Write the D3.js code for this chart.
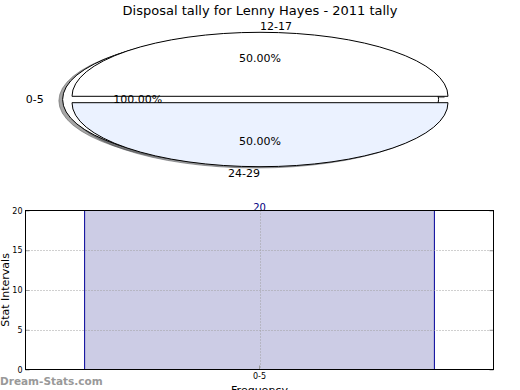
<!DOCTYPE html>
<html>
<head>
<meta charset="utf-8">
<script src="https://cdn.jsdelivr.net/npm/d3@7"></script>
<style>
  html, body { margin: 0; padding: 0; background: #fff; }
  svg { display: block; font-family: "DejaVu Sans", sans-serif; }
</style>
</head>
<body>
<div id="chart"></div>
<script>
// ── Data ──
const title       = 'Disposal tally for Lenny Hayes - 2011 tally';
const sliceLabels = ['0-5', '12-17', '24-29'];
const slicePct    = [100, 50, 50];
const sliceFill   = ['#ffffff', '#ffffff', '#ebf2ff'];
const barCats     = ['0-5'];
const barValues   = [20];
const yTicks      = [0, 5, 10, 15, 20];

const W = 520, H = 390;
const svg = d3.select('#chart').append('svg').attr('width', W).attr('height', H);

svg.append('text')
  .attr('x', 260).attr('y', 10).attr('dy', '0.35em')
  .attr('text-anchor', 'middle').attr('font-size', 13)
  .text(title);

// ── Pie (matplotlib-style, unequal axes -> ellipse) ──
const cx = 260, cy = 99.5, rx = 188, ry = 64;
const EXPLODE = 0.05, SHADOW = -0.02;
const px = d3.scaleLinear().domain([-1, 1]).range([cx - rx, cx + rx]);
const py = d3.scaleLinear().domain([-1, 1]).range([cy + ry, cy - ry]);

// cumulative angles, ccw from +x (degrees)
let acc = 0;
const wedges = slicePct.map((p, i) => {
  const t1 = acc, t2 = acc + p / 100 * 360;
  acc = t2;
  const mid = (t1 + t2) / 2 * Math.PI / 180;
  return { label: sliceLabels[i], pct: p, fill: sliceFill[i], t1, t2, mid,
           ox: EXPLODE * Math.cos(mid), oy: EXPLODE * Math.sin(mid) };
});

const arc = d3.arc().innerRadius(0).outerRadius(1);
function wedgePath(d) {
  return arc({ startAngle: Math.PI / 2 - d.t2 * Math.PI / 180,
               endAngle:   Math.PI / 2 - d.t1 * Math.PI / 180 });
}
function wedgeTransform(d, sx, sy) {
  return `translate(${px(d.ox + sx)},${py(d.oy + sy)}) scale(${rx},${ry})`;
}
function shade(c) { c = d3.rgb(c); return d3.rgb(c.r * 0.3, c.g * 0.3, c.b * 0.3); }

const pieG = svg.append('g');
// shadows under every wedge
pieG.selectAll('path.shadow').data(wedges).join('path')
  .attr('class', 'shadow')
  .attr('d', wedgePath)
  .attr('transform', d => wedgeTransform(d, SHADOW, SHADOW))
  .attr('fill', d => shade(d.fill))
  .attr('fill-opacity', 0.5)
  .attr('stroke', d => shade(d.fill))
  .attr('stroke-opacity', 0.5)
  .attr('stroke-width', 1)
  .attr('vector-effect', 'non-scaling-stroke');

pieG.selectAll('path.wedge').data(wedges).join('path')
  .attr('class', 'wedge')
  .attr('d', wedgePath)
  .attr('transform', d => wedgeTransform(d, 0, 0))
  .attr('fill', d => d.fill)
  .attr('stroke', '#000')
  .attr('stroke-width', 1)
  .attr('vector-effect', 'non-scaling-stroke');

// labels at 1.1 r, percents at 0.6 r
wedges.forEach(d => {
  const lx = d.ox + 1.1 * Math.cos(d.mid), ly = d.oy + 1.1 * Math.sin(d.mid);
  svg.append('text')
    .attr('x', px(lx)).attr('y', py(ly)).attr('dy', '0.35em')
    .attr('text-anchor', lx > d.ox ? 'start' : 'end')
    .attr('font-size', 11)
    .text(d.label);
  svg.append('text')
    .attr('x', px(d.ox + 0.6 * Math.cos(d.mid))).attr('y', py(d.oy + 0.6 * Math.sin(d.mid)))
    .attr('dy', '0.35em').attr('text-anchor', 'middle')
    .attr('font-size', 11)
    .text(d.pct.toFixed(2) + '%');
});

// ── Bar chart ──
const L = 25.5, R = 493.5, T = 210.5, B = 369.5;
const x = d3.scaleBand().domain(barCats).range([L, R]).paddingInner(0).paddingOuter(0.169);
const y = d3.scaleLinear().domain([0, 20]).range([B, T]);

const barG = svg.append('g');
barG.selectAll('rect').data(barValues).join('rect')
  .attr('x', (d, i) => x(barCats[i]))
  .attr('y', d => y(d))
  .attr('width', x.bandwidth())
  .attr('height', d => y(0) - y(d))
  .attr('fill', '#cccce5')
  .attr('stroke', '#000099')
  .attr('stroke-width', 1);

// grid
const grid = svg.append('g')
  .attr('stroke', '#a0a0a0').attr('stroke-width', 1).attr('stroke-dasharray', '1,2');
grid.selectAll('line.h').data(yTicks.slice(1, -1)).join('line')
  .attr('x1', L).attr('x2', R).attr('y1', d => Math.round(y(d)) + 0.5).attr('y2', d => Math.round(y(d)) + 0.5);
grid.selectAll('line.v').data(barCats).join('line')
  .attr('x1', d => Math.round(x(d) + x.bandwidth() / 2) + 0.5)
  .attr('x2', d => Math.round(x(d) + x.bandwidth() / 2) + 0.5)
  .attr('y1', T).attr('y2', B);

// axes (ticks inside)
const yAxis = d3.axisLeft(y).tickValues(yTicks).tickSizeInner(-4).tickSizeOuter(0).tickPadding(3);
const yg = svg.append('g').attr('transform', `translate(${L},0)`).call(yAxis);
yg.select('.domain').remove();
yg.selectAll('text').attr('font-size', 8).attr('font-family', 'DejaVu Sans');
yg.selectAll('line').attr('stroke', '#999');

const yr = svg.append('g').attr('transform', `translate(${R},0)`)
  .call(d3.axisRight(y).tickValues(yTicks).tickSizeInner(-4).tickSizeOuter(0).tickFormat(''));
yr.select('.domain').remove();
yr.selectAll('line').attr('stroke', '#999');

const xg = svg.append('g').attr('transform', `translate(0,${B})`)
  .call(d3.axisBottom(x).tickSizeInner(-4).tickSizeOuter(0).tickPadding(4));
xg.select('.domain').remove();
xg.selectAll('text').attr('font-size', 8).attr('font-family', 'DejaVu Sans');
xg.selectAll('line').attr('stroke', '#999');

svg.append('rect')
  .attr('x', L).attr('y', T).attr('width', R - L).attr('height', B - T)
  .attr('fill', 'none').attr('stroke', '#000').attr('stroke-width', 1);

// value label
barG.selectAll('text.val').data(barValues).join('text')
  .attr('x', (d, i) => x(barCats[i]) + x.bandwidth() / 2)
  .attr('y', d => y(d) + 0.5)
  .attr('text-anchor', 'middle').attr('font-size', 10).attr('fill', '#000080')
  .text(d => d);

svg.append('text')
  .attr('transform', `translate(5.5,${(T + B) / 2}) rotate(-90)`)
  .attr('dy', '0.35em').attr('text-anchor', 'middle').attr('font-size', 11)
  .text('Stat Intervals');

svg.append('text')
  .attr('x', (L + R) / 2).attr('y', 394)
  .attr('text-anchor', 'middle').attr('font-size', 11)
  .text('Frequency');

svg.append('text')
  .attr('x', 0).attr('y', 385)
  .attr('font-size', 10.5).attr('font-weight', 'bold').attr('fill', '#999')
  .text('Dream-Stats.com');
</script>
</body>
</html>
